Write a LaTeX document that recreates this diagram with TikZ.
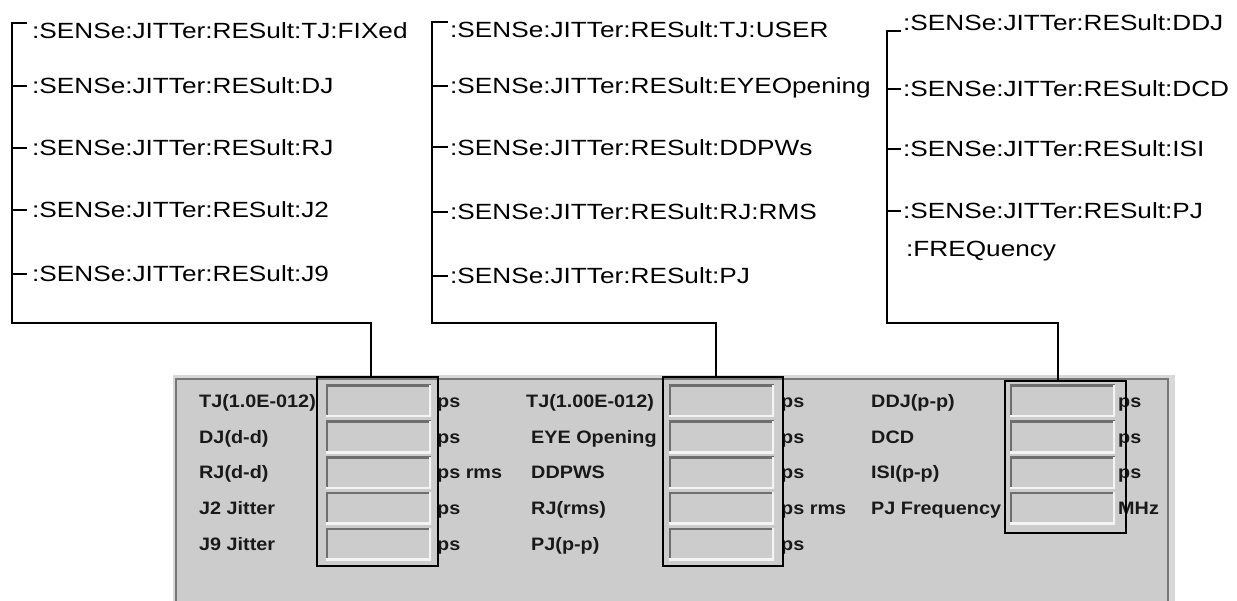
\documentclass[tikz,border=0pt]{standalone}
\usepackage{fontspec}
\setmainfont{Liberation Sans}
\newfontfamily\topfont[FakeStretch=1.19]{Liberation Sans}
\newfontfamily\panfont[FakeStretch=1.1]{Liberation Sans}
\definecolor{panelbg}{HTML}{CCCCCC}
\definecolor{panelout}{HTML}{D8D8D8}
\definecolor{panelline}{HTML}{777777}
\definecolor{fdark}{HTML}{6E6E6E}
\definecolor{flight}{HTML}{F4F4F4}
\tikzset{
  wire/.style={line width=2pt, draw=black},
  cmd/.style={font=\topfont\fontsize{22}{26}\selectfont, inner ysep=0pt, text height=15.75pt, text depth=0pt, anchor=west},
  cmdA/.style={cmd, inner xsep=5pt},
  cmdB/.style={cmd, inner xsep=2pt},
  lbl/.style={font=\panfont\bfseries\fontsize{18}{21}\selectfont, inner sep=0pt, text height=12.9pt, text depth=0pt, anchor=west, text=black!90},
  field/.style={fill=panelbg, minimum width=105pt, minimum height=32pt, inner sep=0pt,
    path picture={
      \draw[line width=4pt, draw=fdark] (path picture bounding box.south west) -- (path picture bounding box.north west) -- (path picture bounding box.north east);
      \draw[line width=4pt, draw=flight] (path picture bounding box.north east) -- (path picture bounding box.south east) -- (path picture bounding box.south west);
    }},
  grpbox/.style={draw=black, line width=2pt, inner sep=0pt}
}
\begin{document}
\begin{tikzpicture}[x=1pt,y=-1pt]
\useasboundingbox (0,0) rectangle (1237,601);
% panel
\fill[panelout] (173,375) rectangle (1175,601);
\fill[panelbg] (176,379) rectangle (1168,601);
\draw[panelline, line width=1.5pt] (176,601) -- (176,379) -- (1168,379) -- (1168,601);

% command lists
\node[cmdA] (t1a) at (27,31)  {:SENSe:JITTer:RESult:TJ:FIXed};
\node[cmdA] (t1b) at (27,86)  {:SENSe:JITTer:RESult:DJ};
\node[cmdA] (t1c) at (27,148) {:SENSe:JITTer:RESult:RJ};
\node[cmdA] (t1d) at (27,210) {:SENSe:JITTer:RESult:J2};
\node[cmdA] (t1e) at (27,274) {:SENSe:JITTer:RESult:J9};

\node[cmdB] (t2a) at (448,30)  {:SENSe:JITTer:RESult:TJ:USER};
\node[cmdB] (t2b) at (448,86)  {:SENSe:JITTer:RESult:EYEOpening};
\node[cmdB] (t2c) at (448,147.5) {:SENSe:JITTer:RESult:DDPWs};
\node[cmdB] (t2d) at (448,212) {:SENSe:JITTer:RESult:RJ:RMS};
\node[cmdB] (t2e) at (448,276) {:SENSe:JITTer:RESult:PJ};

\node[cmdB] (t3a) at (901,23)  {:SENSe:JITTer:RESult:DDJ};
\node[cmdB] (t3b) at (901,89)  {:SENSe:JITTer:RESult:DCD};
\node[cmdB] (t3c) at (901,149) {:SENSe:JITTer:RESult:ISI};
\node[cmdB] (t3d) at (901,211) {:SENSe:JITTer:RESult:PJ};
\node[cmdB] (t3e) at (904,249) {:FREQuency};

% fields
\foreach \g/\x in {1/378.5, 2/721.5} {
  \foreach \r/\y in {1/401, 2/437, 3/472.5, 4/508, 5/544} {
    \node[field] (f\g-\r) at (\x,\y) {};
  }
}
\foreach \r/\y in {1/401, 2/437, 3/472.5, 4/508} {
  \node[field] (f3-\r) at (1062.5,\y) {};
}

% labels
\node[lbl] (l1a) at (199,401)   {TJ(1.0E-012)};
\node[lbl] (l1b) at (199,437)   {DJ(d-d)};
\node[lbl] (l1c) at (199,472.5) {RJ(d-d)};
\node[lbl] (l1d) at (199,508)   {J2 Jitter};
\node[lbl] (l1e) at (199,544)   {J9 Jitter};

\node[lbl] (l2a) at (526,401)   {TJ(1.00E-012)};
\node[lbl] (l2b) at (531,437)   {EYE Opening};
\node[lbl] (l2c) at (531,472.5) {DDPWS};
\node[lbl] (l2d) at (531,508)   {RJ(rms)};
\node[lbl] (l2e) at (531,544)   {PJ(p-p)};

\node[lbl] (l3a) at (871,401)   {DDJ(p-p)};
\node[lbl] (l3b) at (871,437)   {DCD};
\node[lbl] (l3c) at (871,472.5) {ISI(p-p)};
\node[lbl] (l3d) at (871,508)   {PJ Frequency};

% units
\node[lbl] (u1a) at (437,401)   {ps};
\node[lbl] (u1b) at (437,437)   {ps};
\node[lbl] (u1c) at (437,472.5) {ps rms};
\node[lbl] (u1d) at (437,508)   {ps};
\node[lbl] (u1e) at (437,544)   {ps};

\node[lbl] (u2a) at (781,401)   {ps};
\node[lbl] (u2b) at (781,437)   {ps};
\node[lbl] (u2c) at (781,472.5) {ps};
\node[lbl] (u2d) at (781,508)   {ps rms};
\node[lbl] (u2e) at (781,544)   {ps};

\node[lbl] (u3a) at (1118,401)   {ps};
\node[lbl] (u3b) at (1118,437)   {ps};
\node[lbl] (u3c) at (1118,472.5) {ps};
\node[lbl] (u3d) at (1118,508)   {MHz};

% group boxes
\node[grpbox, minimum width=121pt, minimum height=189pt] (b1) at (377.5,471.5) {};
\node[grpbox, minimum width=120pt, minimum height=189pt] (b2) at (723,471.5) {};
\node[grpbox, minimum width=121pt, minimum height=152pt] (b3) at (1065.5,457) {};

% trunks and connectors
\coordinate (tr1) at (12,323);
\coordinate (k1) at (371,323);
\coordinate (tr2) at (432,323);
\coordinate (k2) at (716,323);
\coordinate (tr3) at (887,323);
\coordinate (k3) at (1058,323);

\draw[wire] (t1a.north west) -- (t1a.north west -| tr1) -- (tr1) -- (k1) -- (k1 |- b1.north);
\foreach \n in {t1b,t1c,t1d,t1e} \draw[wire] (\n.west -| tr1) -- (\n.west);

\draw[wire] (t2a.north west) -- (t2a.north west -| tr2) -- (tr2) -- (k2) -- (k2 |- b2.north);
\foreach \n in {t2b,t2c,t2d,t2e} \draw[wire] (\n.west -| tr2) -- (\n.west);

\draw[wire] (t3a.south west) -- (t3a.south west -| tr3) -- (tr3) -- (k3) -- (k3 |- b3.north);
\foreach \n in {t3b,t3c,t3d} \draw[wire] (\n.west -| tr3) -- (\n.west);
\end{tikzpicture}
\end{document}
